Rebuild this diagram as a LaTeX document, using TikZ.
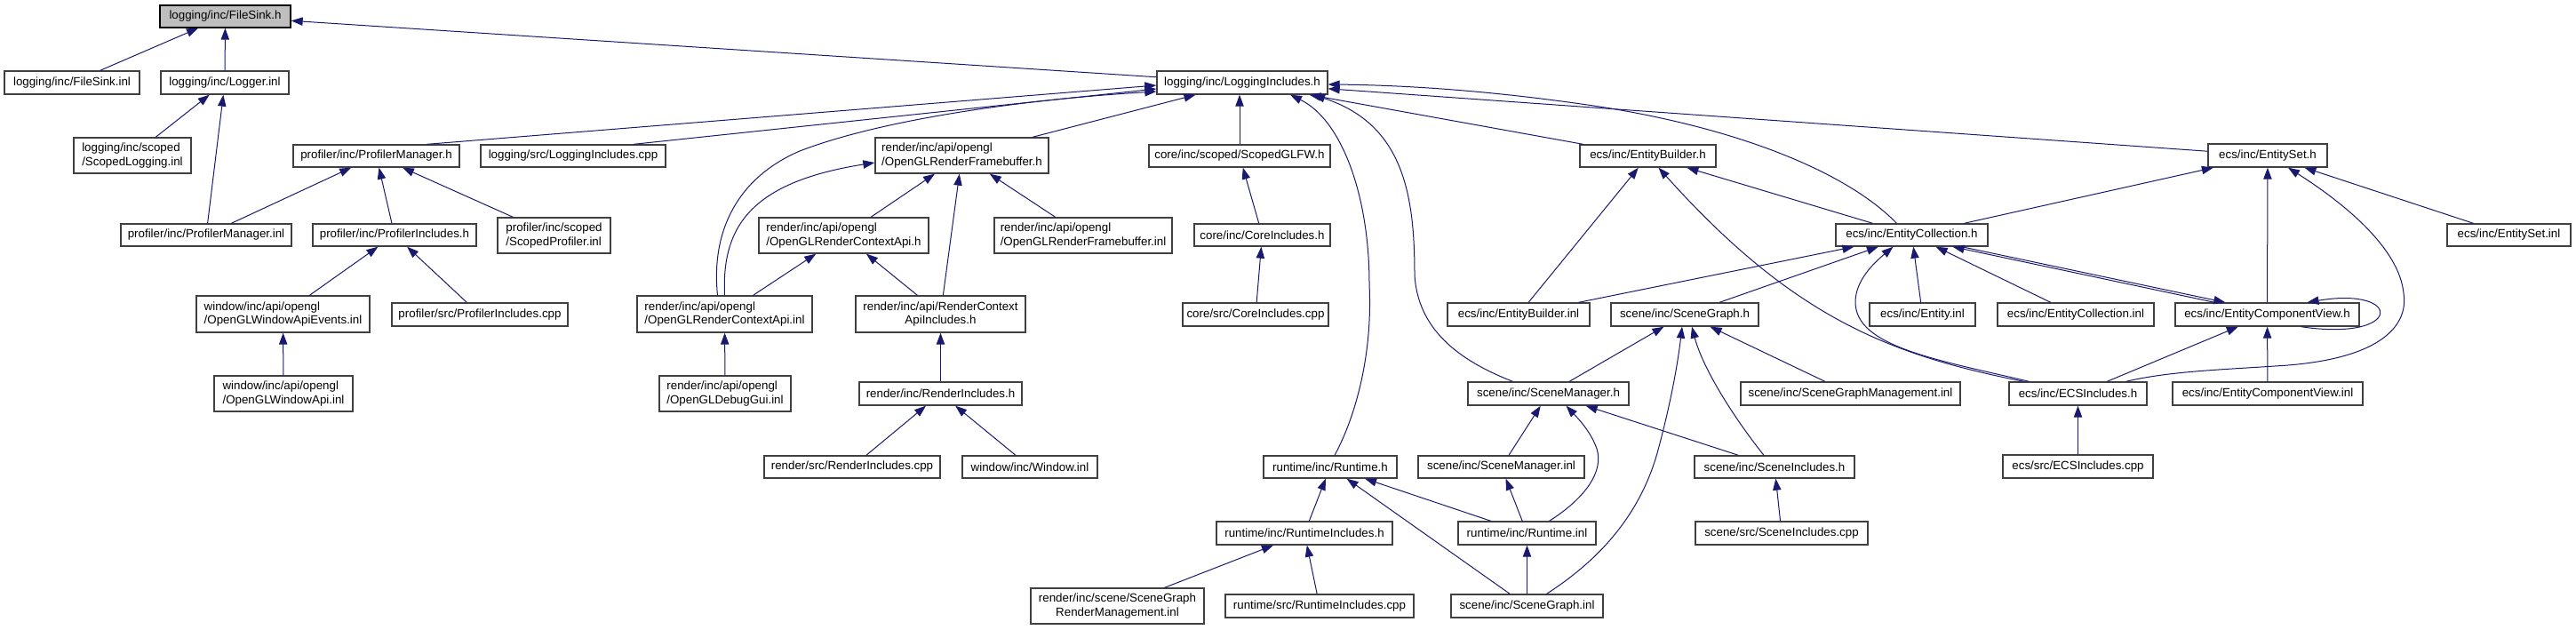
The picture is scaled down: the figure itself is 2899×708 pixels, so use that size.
\documentclass[tikz,border=0pt]{standalone}
\usepackage{fontspec}
\setmainfont{Liberation Sans}
\usetikzlibrary{arrows.meta,calc}
\definecolor{mblue}{HTML}{191970}
\definecolor{grey25}{HTML}{404040}
\definecolor{grey75}{HTML}{BFBFBF}
\newcommand\mybox[7][]{%
  \pgfmathsetmacro\mybw{(#5-#3)*0.75}%
  \pgfmathsetmacro\mybh{(#6-#4)*0.75}%
  \node[filebox,minimum width=\mybw pt,minimum height=\mybh pt,#1] (#2) at ({(#3+#5)/2},{(#4+#6)/2}) {#7};%
}
\tikzset{
  filebox/.style={draw=grey25, line width=1pt, fill=white, inner sep=0pt,
    font=\fontsize{10pt}{11.5pt}\selectfont, text=black},
  dep/.style={draw=mblue, line width=0.75pt, -{Triangle[length=9.75pt,width=7pt]}},
}
\begin{document}
\begin{tikzpicture}[x=0.75pt,y=-0.75pt]
\fill[white] (0,0) rectangle (2899,708);
\useasboundingbox (0,0) rectangle (2899,708);
% ---- nodes
\mybox[draw=black,fill=grey75]{fsh}{180}{6}{327}{31}{logging/inc/FileSink.h}
\mybox{fsinl}{5}{80}{157}{106}{logging/inc/FileSink.inl}
\mybox{loginl}{181}{80}{325}{106}{logging/inc/Logger.inl}
\mybox[align=left]{scl}{83}{155}{215}{195}{logging/inc/scoped\\/ScopedLogging.inl}
\mybox{pmh}{330}{163}{517}{188}{profiler/inc/ProfilerManager.h}
\mybox{lic}{541}{163}{749}{188}{logging/src/LoggingIncludes.cpp}
\mybox{pminl}{136}{252}{328}{277}{profiler/inc/ProfilerManager.inl}
\mybox{pih}{352}{252}{536}{277}{profiler/inc/ProfilerIncludes.h}
\mybox[align=left]{spinl}{560}{245}{687}{285}{profiler/inc/scoped\\/ScopedProfiler.inl}
\mybox[align=left]{wae}{221}{333}{416}{374}{window/inc/api/opengl\\/OpenGLWindowApiEvents.inl}
\mybox{picpp}{441}{341}{639}{367}{profiler/src/ProfilerIncludes.cpp}
\mybox[align=left]{wa}{241}{423}{397}{463}{window/inc/api/opengl\\/OpenGLWindowApi.inl}
\mybox{lih}{1302}{80}{1494}{106}{logging/inc/LoggingIncludes.h}
\mybox[align=left]{rfbh}{985}{155}{1180}{195}{render/inc/api/opengl\\/OpenGLRenderFramebuffer.h}
\mybox{glfw}{1293}{163}{1497}{188}{core/inc/scoped/ScopedGLFW.h}
\mybox[align=left]{rcah}{854}{245}{1045}{285}{render/inc/api/opengl\\/OpenGLRenderContextApi.h}
\mybox[align=left]{rfbinl}{1119}{245}{1319}{285}{render/inc/api/opengl\\/OpenGLRenderFramebuffer.inl}
\mybox{cih}{1344}{252}{1497}{277}{core/inc/CoreIncludes.h}
\mybox[align=left]{rcainl}{717}{333}{914}{374}{render/inc/api/opengl\\/OpenGLRenderContextApi.inl}
\mybox[align=center]{rcai}{963}{333}{1154}{374}{render/inc/api/RenderContext\\ApiIncludes.h}
\mybox{cicpp}{1331}{341}{1495}{367}{core/src/CoreIncludes.cpp}
\mybox[align=left]{dbg}{742}{423}{890}{463}{render/inc/api/opengl\\/OpenGLDebugGui.inl}
\mybox{rih}{967}{430}{1150}{456}{render/inc/RenderIncludes.h}
\mybox{ricpp}{860}{513}{1058}{538}{render/src/RenderIncludes.cpp}
\mybox{win}{1083}{513}{1235}{538}{window/inc/Window.inl}
\mybox{rth}{1422}{513}{1572}{538}{runtime/inc/Runtime.h}
\mybox{rtih}{1369}{587}{1567}{613}{runtime/inc/RuntimeIncludes.h}
\mybox[align=center]{sgrm}{1160}{662}{1355}{702}{render/inc/scene/SceneGraph\\RenderManagement.inl}
\mybox{rticpp}{1379}{669}{1591}{695}{runtime/src/RuntimeIncludes.cpp}
\mybox{ebh}{1778}{163}{1931}{188}{ecs/inc/EntityBuilder.h}
\mybox{ech}{2066}{252}{2237}{277}{ecs/inc/EntityCollection.h}
\mybox{ebinl}{1629}{341}{1789}{367}{ecs/inc/EntityBuilder.inl}
\mybox{sgh}{1813}{341}{1979}{367}{scene/inc/SceneGraph.h}
\mybox{einl}{2104}{341}{2223}{367}{ecs/inc/Entity.inl}
\mybox{ecinl}{2248}{341}{2424}{367}{ecs/inc/EntityCollection.inl}
\mybox{ecvh}{2448}{341}{2655}{367}{ecs/inc/EntityComponentView.h}
\mybox{smh}{1652}{430}{1833}{456}{scene/inc/SceneManager.h}
\mybox{sgm}{1959}{430}{2206}{456}{scene/inc/SceneGraphManagement.inl}
\mybox{ecsh}{2261}{430}{2416}{456}{ecs/inc/ECSIncludes.h}
\mybox{ecvinl}{2445}{430}{2659}{456}{ecs/inc/EntityComponentView.inl}
\mybox{sminl}{1596}{513}{1783}{538}{scene/inc/SceneManager.inl}
\mybox{sih}{1907}{513}{2087}{538}{scene/inc/SceneIncludes.h}
\mybox{ecscpp}{2254}{512}{2423}{538}{ecs/src/ECSIncludes.cpp}
\mybox{rtinl}{1641}{587}{1796}{613}{runtime/inc/Runtime.inl}
\mybox{sicpp}{1908}{587}{2102}{613}{scene/src/SceneIncludes.cpp}
\mybox{sginl}{1633}{669}{1804}{695}{scene/inc/SceneGraph.inl}
\mybox{esh}{2485}{162}{2619}{188}{ecs/inc/EntitySet.h}
\mybox{esinl}{2754}{252}{2893}{277}{ecs/inc/EntitySet.inl}
% ---- straight edges (child -> included file)
\draw[dep] (fsinl) -- (fsh);
\draw[dep] (loginl) -- (fsh);
\draw[dep] (lih) -- (fsh);
\draw[dep] (scl) -- (loginl);
\draw[dep] (pminl) -- (loginl);
\draw[dep] ($(pmh.north)+(57,0)$) -- ($(lih.west)+(0,3)$);
\draw[dep] ($(lic.north)+(68,0)$) -- ($(lih.west)+(0,7)$);
\draw[dep] (rfbh) -- (lih);
\draw[dep] (glfw.north) -- (glfw.north |- lih.south);
\draw[dep] (ebh) -- (lih);
\draw[dep] (esh) -- (lih);
\draw[dep] (pminl) -- (pmh);
\draw[dep] (pih) -- (pmh);
\draw[dep] (spinl) -- (pmh);
\draw[dep] (wae) -- (pih);
\draw[dep] (picpp) -- (pih);
\draw[dep] (wa) -- (wae);
\draw[dep] (rcah) -- (rfbh);
\draw[dep] (rcai) -- (rfbh);
\draw[dep] (rfbinl) -- (rfbh);
\draw[dep] (rcainl) -- (rcah);
\draw[dep] (rcai) -- (rcah);
\draw[dep] (dbg) -- (rcainl);
\draw[dep] (rih) -- (rcai);
\draw[dep] (ricpp) -- (rih);
\draw[dep] (win) -- (rih);
\draw[dep] (cih) -- (glfw);
\draw[dep] (cicpp) -- (cih);
\draw[dep] (rtih) -- (rth);
\draw[dep] (rtinl) -- (rth);
\draw[dep] (sginl) -- (rth);
\draw[dep] (sginl) -- (rtinl);
\draw[dep] (sgrm) -- (rtih);
\draw[dep] (rticpp) -- (rtih);
\draw[dep] (ebinl) -- (ebh);
\draw[dep] (ech) -- (ebh);
\draw[dep] (ech) -- (esh);
\draw[dep] (ecvh) -- (esh);
\draw[dep] (esinl) -- (esh);
\draw[dep] (ebinl) -- (ech);
\draw[dep] (sgh) -- (ech);
\draw[dep] (einl) -- (ech);
\draw[dep] (ecinl) -- (ech);
\draw[dep] ($(ecvh.north west)+(45,0)$) -- ($(ech.south)+(46,0)$);
\draw[dep] ($(ech.south)+(56,0)$) -- ($(ecvh.north west)+(57,0)$);
\draw[dep] (ecsh) -- (ecvh);
\draw[dep] (ecvinl) -- (ecvh);
\draw[dep] (ecscpp) -- (ecsh);
\draw[dep] (smh) -- (sgh);
\draw[dep] (sgm) -- (sgh);
\draw[dep] (sminl) -- (smh);
\draw[dep] (sih) -- (smh);
\draw[dep] (rtinl) -- (sminl);
\draw[dep] (sicpp) -- (sih);
% ---- curved edges
\draw[dep] ($(rcainl.north)+(-8,0)$) .. controls (800,260) and (830,200) .. (900,170)
  .. controls (990,135) and (1150,112) .. ($(lih.west)+(0,10)$);
\draw[dep] (rcainl.north) .. controls (812,255) and (845,205) .. ($(rfbh.west)+(0,8)$);
\draw[dep] ($(rth.north)+(5,0)$) .. controls (1525,470) and (1545,400) .. (1541,320)
  .. controls (1541,220) and (1510,135) .. ($(lih.south)+(54,0)$);
\draw[dep] ($(smh.north)+(-40,0)$) .. controls (1640,405) and (1596,370) .. (1592,310)
  .. controls (1592,220) and (1580,140) .. ($(lih.south)+(80,0)$);
\draw[dep] ($(ech.north)+(-17,0)$) .. controls (2080,195) and (1960,145) .. (1800,120)
  .. controls (1700,105) and (1600,96) .. ($(lih.east)+(0,2)$);
\draw[dep] ($(ecsh.north)+(-61,0)$) .. controls (2130,400) and (2020,360) .. ($(ebh.south)+(12,0)$);
\draw[dep] ($(ecsh.north)+(-55,0)$) .. controls (2180,405) and (2088,390) .. (2088,340)
  .. controls (2088,315) and (2110,295) .. ($(ech.south)+(-21,0)$);
\draw[dep] ($(ecsh.north)+(54,0)$) .. controls (2440,418) and (2500,416) .. (2560,412)
  .. controls (2690,405) and (2710,360) .. (2705,330)
  .. controls (2700,280) and (2640,230) .. ($(esh.south)+(23,0)$);
\draw[dep] ($(sginl.north)+(22,0)$) .. controls (1800,630) and (1845,580) .. (1865,510)
  .. controls (1880,455) and (1888,410) .. ($(sgh.south)+(-3,0)$);
\draw[dep] ($(sih.north)+(-12,0)$) .. controls (1945,462) and (1915,410) .. ($(sgh.south)+(8,0)$);
\draw[dep] ($(rtinl.north)+(25,0)$) .. controls (1785,560) and (1805,530) .. (1797,505)
  .. controls (1790,485) and (1775,470) .. ($(smh.south)+(20,0)$);
\draw[dep] ($(ecvh.south)+(38,0)$) .. controls (2705,385) and (2705,322) .. ($(ecvh.north)+(45,0)$);
\end{tikzpicture}
\end{document}
